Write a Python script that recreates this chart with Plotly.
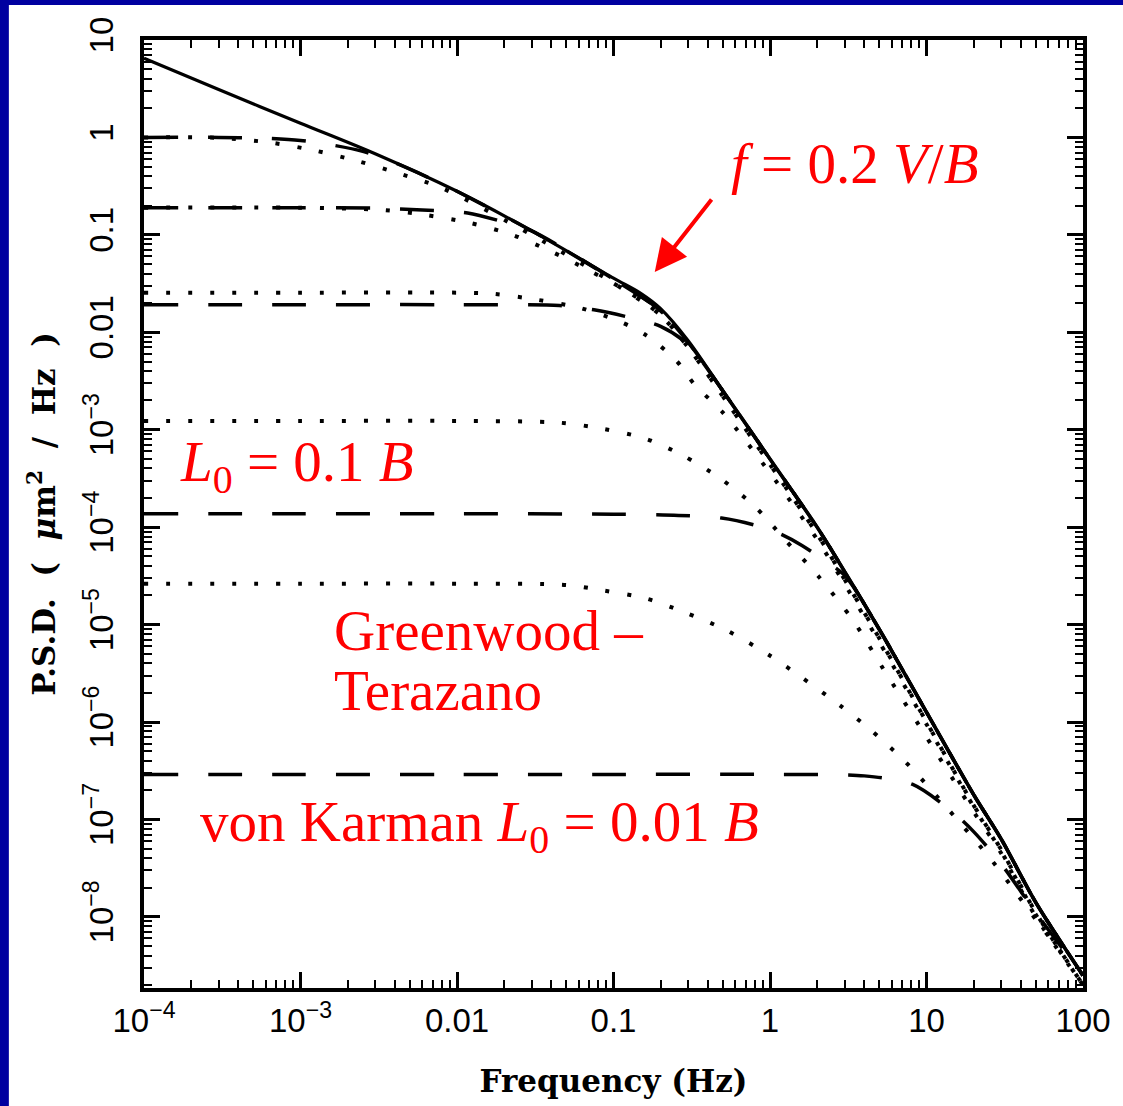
import plotly.graph_objects as go

# ---------------- data ----------------
x_tick_vals = [1e-4, 1e-3, 1e-2, 1e-1, 1, 10, 100]
x_tick_text = ["10<sup>−4</sup>", "10<sup>−3</sup>", "0.01", "0.1", "1", "10", "100"]
y_tick_vals = [1e-8, 1e-7, 1e-6, 1e-5, 1e-4, 1e-3, 1e-2, 1e-1, 1, 10]
y_tick_text = ["10<sup>−8</sup>", "10<sup>−7</sup>", "10<sup>−6</sup>", "10<sup>−5</sup>",
               "10<sup>−4</sup>", "10<sup>−3</sup>", "0.01", "0.1", "1", "10"]

# Kolmogorov (solid)
kol_f = [1e-4, 3e-4, 1e-3, 3e-3, 0.01, 0.03, 0.1, 0.15, 0.2, 0.3, 0.5, 1, 2, 3, 5, 10, 20, 30, 50, 100]
kol_p = [6.5, 3.1, 1.4, 0.68, 0.28, 0.11, 0.036, 0.025, 0.0175, 0.0082, 2.5e-3, 5.0e-4, 1.0e-4,
         3.5e-5, 8.9e-6, 1.26e-6, 1.8e-7, 6.3e-8, 1.4e-8, 2.5e-9]

# von Karman (dashed)
vk_a_f = [1e-4, 3e-4, 6e-4, 1e-3, 1.5e-3, 2.5e-3, 4e-3, 7e-3, 0.01, 0.03, 0.1, 0.2, 0.3, 0.5, 1, 2, 3, 5, 10, 20, 30, 50, 100]
vk_a_p = [1.0, 1.0, 0.98, 0.93, 0.85, 0.72, 0.55, 0.37, 0.28, 0.11, 0.035, 0.0166, 0.0079, 2.5e-3,
          5.0e-4, 1.0e-4, 3.5e-5, 8.9e-6, 1.26e-6, 1.8e-7, 6.3e-8, 1.4e-8, 2.5e-9]
vk_b_f = [1e-4, 1e-3, 3e-3, 6e-3, 0.0117, 0.02, 0.03, 0.1, 0.2, 0.3, 0.5, 1, 2, 3, 5, 10, 20, 30, 50, 100]
vk_b_p = [0.19, 0.19, 0.188, 0.18, 0.168, 0.135, 0.11, 0.035, 0.0166, 0.0079, 2.5e-3,
          5.0e-4, 1.0e-4, 3.5e-5, 8.9e-6, 1.26e-6, 1.8e-7, 6.3e-8, 1.4e-8, 2.5e-9]
vk_c_f = [1e-4, 1e-3, 0.01, 0.045, 0.075, 0.12, 0.2, 0.3, 0.5, 1, 2, 3, 5, 10, 20, 30, 50, 100]
vk_c_p = [0.0192, 0.0192, 0.0192, 0.0188, 0.017, 0.0145, 0.0115, 0.0075, 2.5e-3,
          5.0e-4, 1.0e-4, 3.5e-5, 8.9e-6, 1.26e-6, 1.8e-7, 6.3e-8, 1.4e-8, 2.5e-9]
vk_d_f = [1e-4, 1e-3, 0.01, 0.1, 0.26, 0.49, 0.8, 1.15, 1.6, 2.2, 3, 5, 10, 20, 30, 50, 100]
vk_d_p = [1.37e-4, 1.37e-4, 1.37e-4, 1.36e-4, 1.32e-4, 1.24e-4, 1.05e-4, 8.6e-5, 6.5e-5, 4.6e-5,
          3.2e-5, 8.9e-6, 1.26e-6, 1.8e-7, 6.3e-8, 1.4e-8, 2.5e-9]
vk_e_f = [1e-4, 1e-3, 0.01, 0.1, 1, 4, 8.1, 14.6, 20, 30, 50, 100]
vk_e_p = [2.9e-7, 2.9e-7, 2.9e-7, 2.9e-7, 2.9e-7, 2.8e-7, 2.3e-7, 1.2e-7, 7.5e-8, 3.5e-8, 1.1e-8, 2.5e-9]

# Greenwood-Tarazano (dotted)
gt_a_f = [1e-4, 3e-4, 6.6e-4, 1.25e-3, 2.34e-3, 4.4e-3, 8.1e-3, 0.03, 0.1, 0.2, 0.3, 0.5, 1, 2, 3, 5, 10, 20, 30, 50, 100]
gt_a_p = [1.0, 0.99, 0.88, 0.73, 0.57, 0.42, 0.30, 0.1, 0.032, 0.015, 0.007, 2.2e-3, 4.4e-4, 8.5e-5,
          2.9e-5, 7.2e-6, 1.0e-6, 1.4e-7, 4.9e-8, 1.1e-8, 2.0e-9]
gt_b_f = [1e-4, 1e-3, 3.4e-3, 6.3e-3, 0.012, 0.0226, 0.0404, 0.072, 0.127, 0.2, 0.3, 0.5, 1, 2, 3, 5, 10, 20, 30, 50, 100]
gt_b_p = [0.19, 0.19, 0.18, 0.16, 0.133, 0.1, 0.067, 0.042, 0.0254, 0.015, 0.007, 2.2e-3, 4.4e-4,
          8.5e-5, 2.9e-5, 7.2e-6, 1.0e-6, 1.4e-7, 4.9e-8, 1.1e-8, 2.0e-9]
gt_c_f = [1e-4, 1e-3, 0.01, 0.0172, 0.0323, 0.061, 0.111, 0.162, 0.25, 0.33, 0.5, 1, 2, 3, 5, 10, 20, 30, 50, 100]
gt_c_p = [0.0255, 0.0255, 0.0255, 0.0248, 0.0216, 0.0178, 0.0128, 0.0093, 0.0052, 0.0029, 1.5e-3,
          3.6e-4, 7.5e-5, 2.6e-5, 6.6e-6, 9.5e-7, 1.35e-7, 4.7e-8, 1.05e-8, 2.0e-9]
gt_d_f = [1e-4, 1e-3, 0.01, 0.0455, 0.086, 0.16, 0.28, 0.49, 0.81, 1.25, 2.05, 3.4, 5.3, 9.1, 20, 30, 50, 100]
gt_d_p = [1.23e-3, 1.23e-3, 1.23e-3, 1.18e-3, 1.02e-3, 8.1e-4, 5.4e-4, 3.1e-4, 1.6e-4, 7.4e-5,
          3.1e-5, 1.1e-5, 3.5e-6, 8.9e-7, 1.2e-7, 4.5e-8, 1.0e-8, 2.0e-9]
gt_e_f = [1e-4, 1e-3, 0.01, 0.05, 0.086, 0.16, 0.29, 0.53, 0.98, 1.58, 2.77, 4.4, 7.1, 9.1, 25.8, 38, 57, 86]
gt_e_p = [2.63e-5, 2.63e-5, 2.63e-5, 2.55e-5, 2.24e-5, 1.86e-5, 1.32e-5, 8.7e-6, 4.9e-6, 2.9e-6,
          1.5e-6, 8.3e-7, 4.1e-7, 2.7e-7, 3.9e-8, 1.7e-8, 7.1e-9, 3.1e-9]

annotations_text = {
    "arrow": "<i>f</i> = 0.2 <i>V</i>/<i>B</i>",
    "l01": "<i>L</i><sub>0</sub> = 0.1 <i>B</i>",
    "gw1": "Greenwood –",
    "gw2": "Terazano",
    "vk": "von Karman <i>L</i><sub>0</sub> = 0.01 <i>B</i>",
}

# ---------------- figure ----------------
W, H = 1123, 1106
L, R, T, B = 144, 34, 40, 118
PW, PH = W - L - R, H - T - B


def px(xp):
    return (xp - L) / PW


def py(yp):
    return (H - B - yp) / PH


fig = go.Figure()

dash_style = dict(color="black", width=3.5, dash="34px,30px")
dot_style = dict(color="black", width=4, dash="4px,18px")

for f, p in [(vk_a_f, vk_a_p), (vk_b_f, vk_b_p), (vk_c_f, vk_c_p), (vk_d_f, vk_d_p), (vk_e_f, vk_e_p)]:
    fig.add_trace(go.Scatter(x=f, y=p, mode="lines", line=dict(shape="spline", smoothing=0.8, **dash_style),
                             showlegend=False, hoverinfo="skip"))
for f, p in [(gt_a_f, gt_a_p), (gt_b_f, gt_b_p), (gt_c_f, gt_c_p), (gt_d_f, gt_d_p), (gt_e_f, gt_e_p)]:
    fig.add_trace(go.Scatter(x=f, y=p, mode="lines", line=dict(shape="spline", smoothing=0.8, **dot_style),
                             showlegend=False, hoverinfo="skip"))
fig.add_trace(go.Scatter(x=kol_f, y=kol_p, mode="lines",
                         line=dict(color="black", width=3.2, shape="spline", smoothing=0.9),
                         showlegend=False, hoverinfo="skip"))

tick_font = dict(family="Liberation Sans, Arial, sans-serif", size=33, color="black")
title_font = dict(family="DejaVu Serif, serif", size=31, color="black")

common_axis = dict(
    type="log", showline=True, linewidth=4, linecolor="black", mirror="allticks",
    ticks="inside", ticklen=16, tickwidth=2.5, tickcolor="black", showgrid=False, zeroline=False,
    minor=dict(ticks="inside", ticklen=8, tickwidth=2, tickcolor="black", showgrid=False, dtick="D1"),
    tickfont=tick_font,
)

fig.update_xaxes(range=[-4, 2], tickvals=x_tick_vals, ticktext=x_tick_text,
                 title=dict(text="<b>Frequency (Hz)</b>", font=title_font, standoff=34),
                 ticklabelstandoff=0, **common_axis)
fig.update_yaxes(range=[-8.73, 1], tickvals=y_tick_vals, ticktext=y_tick_text, tickangle=-90,
                 title=dict(text="<b>P.S.D.  (  <i>μ</i>m<sup>2</sup>  /  Hz  )</b>", font=title_font, standoff=14),
                 ticklabelstandoff=14, **common_axis)

red_font = dict(family="Liberation Serif, Times New Roman, serif", size=57, color="#FF0000")

ann = []
ann.append(dict(xref="paper", yref="paper", x=px(733), y=py(163), xanchor="left", yanchor="middle",
                text=annotations_text["arrow"], showarrow=False, font=red_font))
ann.append(dict(xref="paper", yref="paper", x=px(178), y=py(466), xanchor="left", yanchor="middle",
                text=annotations_text["l01"], showarrow=False, font=red_font))
ann.append(dict(xref="paper", yref="paper", x=px(333), y=py(630), xanchor="left", yanchor="middle",
                text=annotations_text["gw1"], showarrow=False, font=red_font))
ann.append(dict(xref="paper", yref="paper", x=px(333), y=py(690), xanchor="left", yanchor="middle",
                text=annotations_text["gw2"], showarrow=False, font=red_font))
ann.append(dict(xref="paper", yref="paper", x=px(198), y=py(826), xanchor="left", yanchor="middle",
                text=annotations_text["vk"], showarrow=False, font=red_font))
# arrow
ann.append(dict(xref="paper", yref="paper", x=px(658), y=py(272), ax=58, ay=-74, axref="pixel", ayref="pixel",
                text="", showarrow=True, arrowhead=2, arrowsize=1.6, arrowwidth=4, arrowcolor="#FF0000"))

shapes = [
    dict(type="rect", xref="paper", yref="paper", x0=px(-5), x1=px(8), y0=py(1120), y1=py(-5),
         fillcolor="#0000A0", line=dict(width=0), layer="above"),
    dict(type="rect", xref="paper", yref="paper", x0=px(-5), x1=px(1130), y0=py(5), y1=py(-5),
         fillcolor="#0000A0", line=dict(width=0), layer="above"),
]

fig.update_layout(
    width=W, height=H, margin=dict(l=L, r=R, t=T, b=B),
    paper_bgcolor="white", plot_bgcolor="white",
    annotations=ann, shapes=shapes, showlegend=False,
)

fig.write_html("out.html")
